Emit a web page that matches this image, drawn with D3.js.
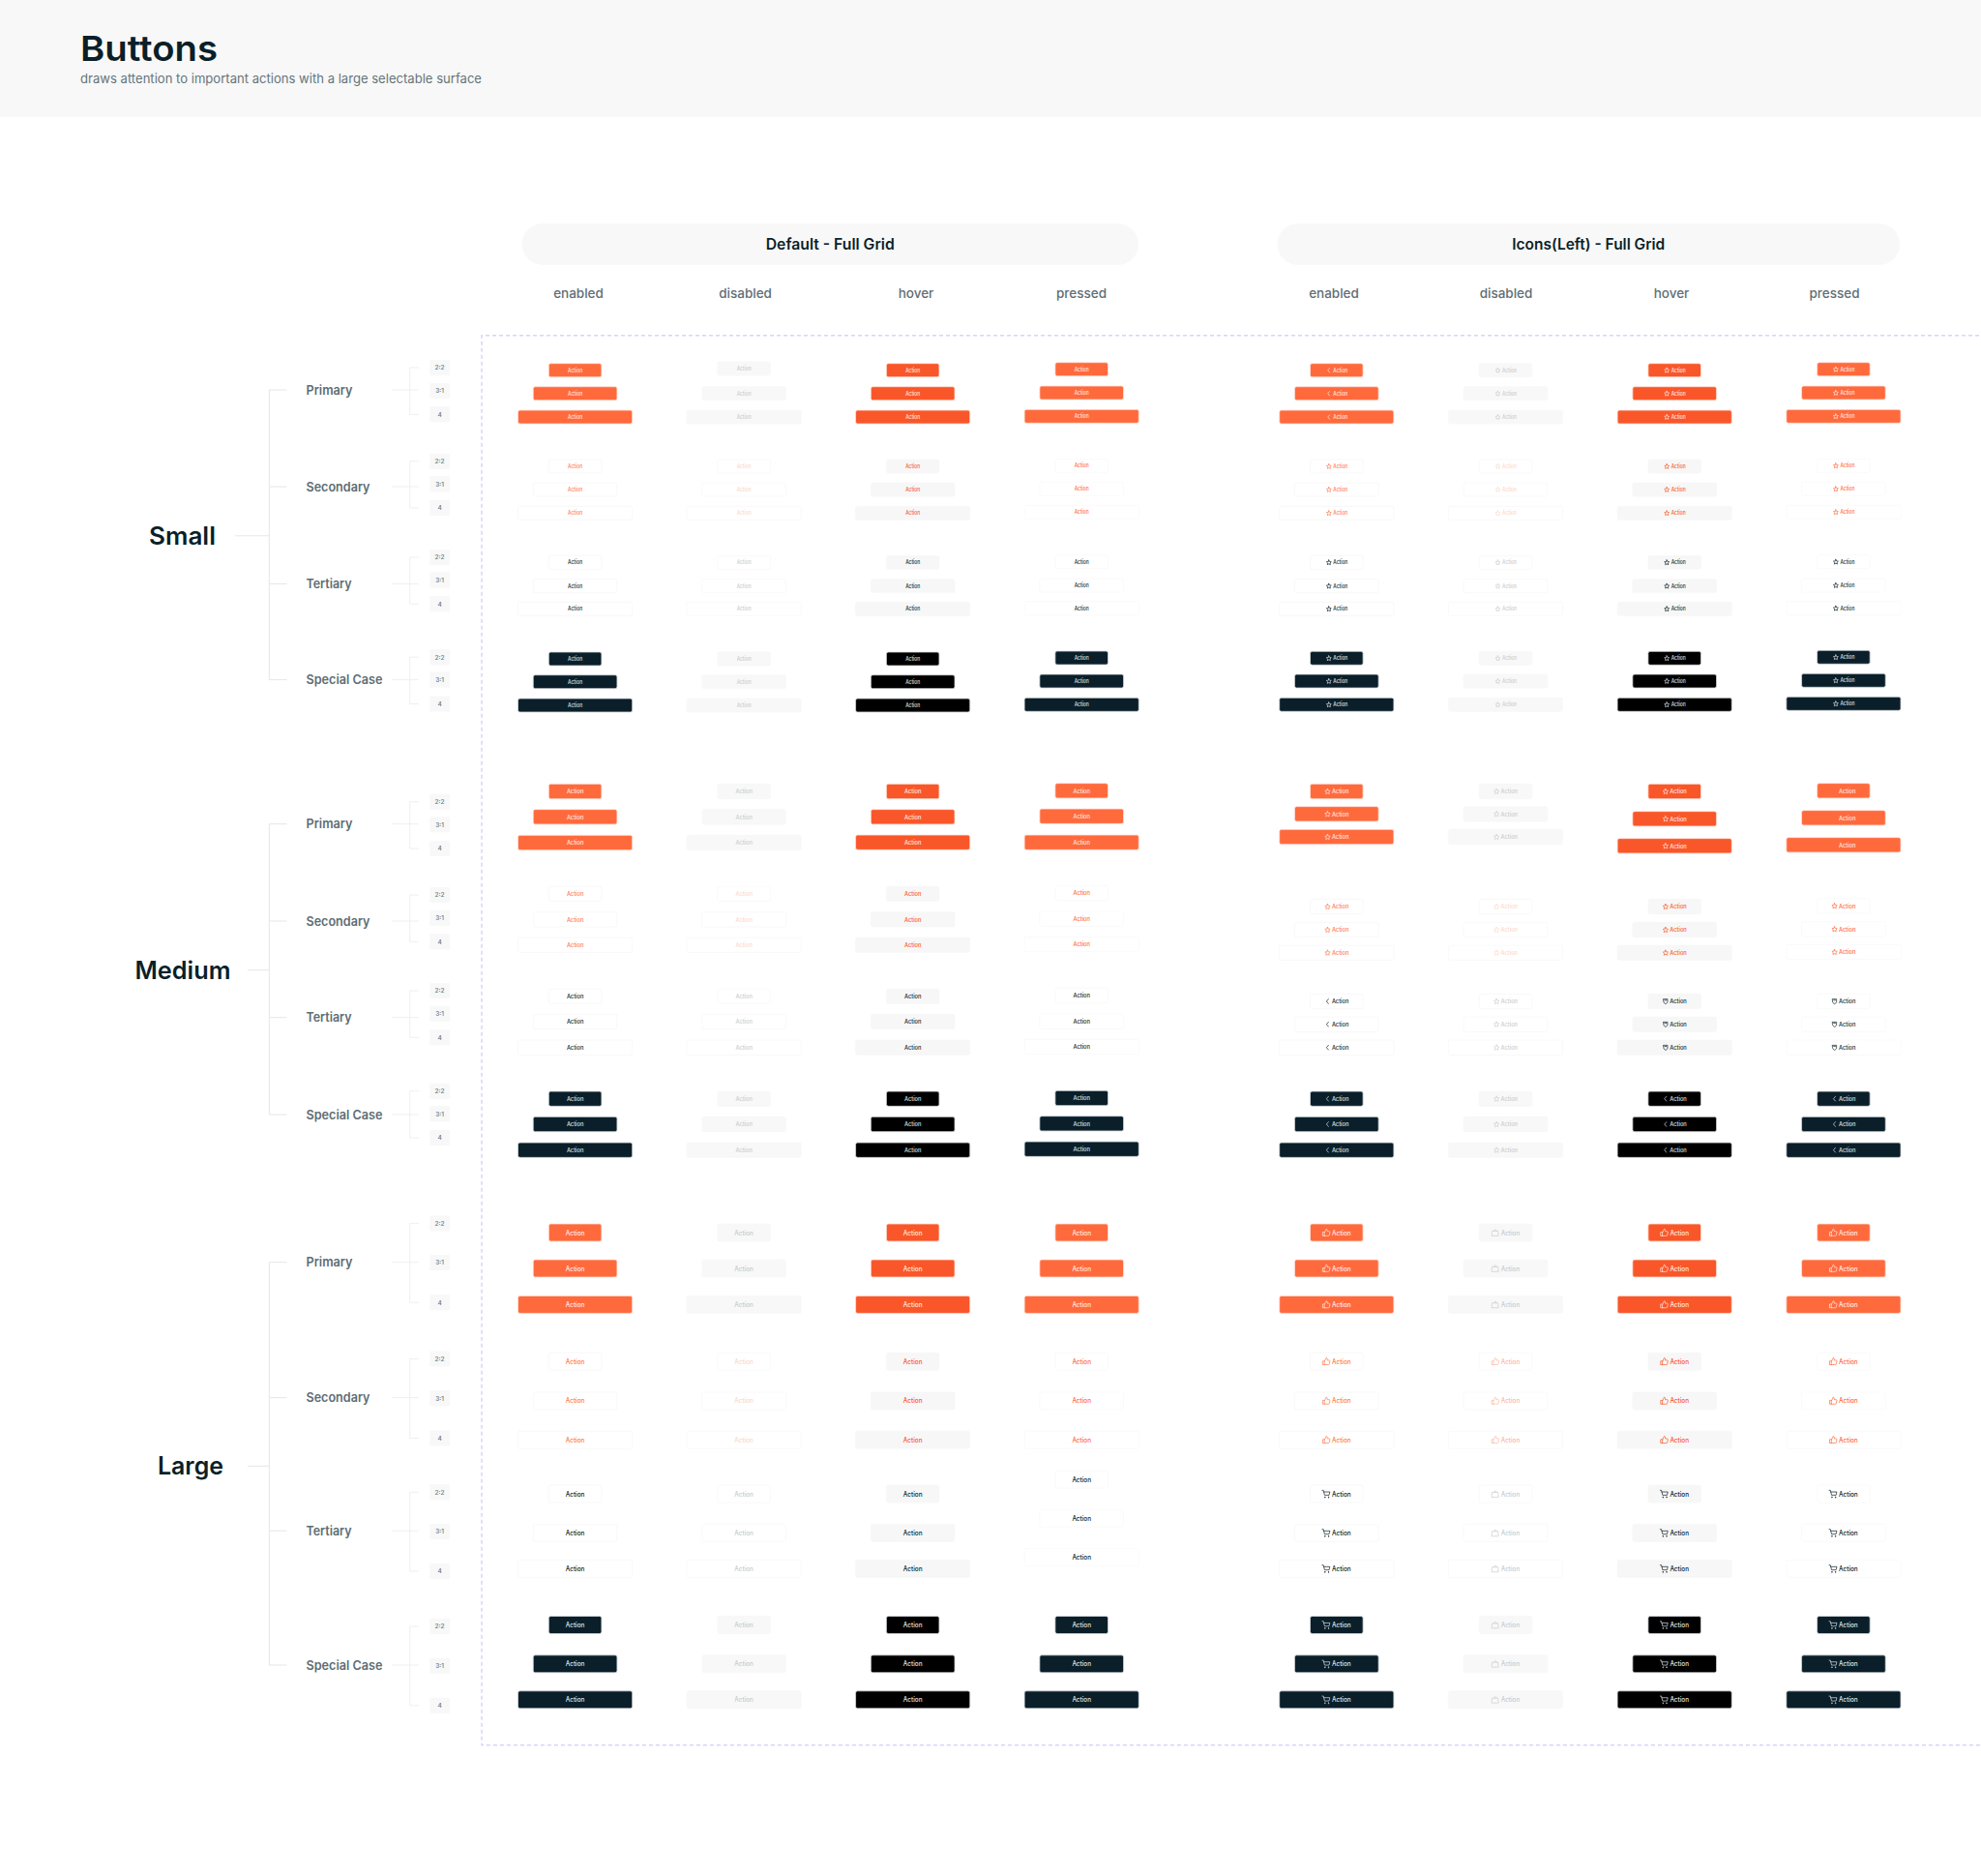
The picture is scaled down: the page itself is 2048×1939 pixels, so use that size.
<!DOCTYPE html>
<html><head><meta charset="utf-8">
<script src="https://cdnjs.cloudflare.com/ajax/libs/d3/7.9.0/d3.min.js"></script>
<style>html,body{margin:0;padding:0;background:#fff}svg{display:block}text{font-family:Inter,"Noto Sans",sans-serif}</style>
</head><body><div id="chart"></div>
<script>
// ---------- categories / labels ----------
const sizes = ['Small','Medium','Large'];
const kinds = ['Primary','Secondary','Tertiary','Special Case'];
const states = ['enabled','disabled','hover','pressed'];
const ratios = ['2:2','3:1','4'];
const groups = ['Default - Full Grid','Icons(Left) - Full Grid'];

// ---------- row centres (12 per column: 4 kinds x 3 ratios) ----------
const smallDefaultEnabled  = [382.7,406.7,431,482,506,530.3,581.3,605.7,629.3,681,704.7,729];
const smallDefaultDisabled = [381,406.7,431,482,506,530.3,581.3,605.7,629.3,681,704.7,729];
const smallDefaultHover    = [382.7,406.7,431,482,506,530.3,581.3,605.7,629.3,681,704.7,729];
const smallDefaultPressed  = [381.7,406,430.3,481.3,505.3,529.3,580.7,605,628.7,680,704,728.3];
const smallIconEnabled     = [382.7,406.7,431,482,506,530.3,581.3,605.7,629.3,680.3,704,728.3];
const smallIconDisabled    = [382.7,406.7,431,482,506,530.3,581.3,605.7,629.3,680.3,704,728.3];
const smallIconHover       = [382.7,406.7,431,482,506,530.3,581.3,605.7,629.3,680.3,704,728.3];
const smallIconPressed     = [381.7,406,430.3,481.3,505.3,529.3,580.7,605,628.7,679.3,703.3,727.3];

const mediumDefaultEnabled  = [818,844.3,871,923.7,950.3,976.7,1029.7,1056,1082.7,1135.7,1162,1188.7];
const mediumDefaultDisabled = [818,844.3,871,923.7,950.3,976.7,1029.7,1056,1082.7,1135.7,1162,1188.7];
const mediumDefaultHover    = [818,844.3,870.7,923.7,950.3,976.7,1029.7,1056,1082.7,1135.7,1162,1188.7];
const mediumDefaultPressed  = [817.3,843.7,870.7,923,949.7,976,1029,1055.7,1082,1135,1161.3,1187.7];
const mediumIconEnabled     = [818,841.3,865,937,961,984.7,1035,1058.7,1082.7,1135.7,1162,1188.7];
const mediumIconDisabled    = [818,841.3,865,937,961,984.7,1035,1058.7,1082.7,1135.7,1162,1188.7];
const mediumIconHover       = [818,846.3,874.3,937,961,984.7,1035,1058.7,1082.7,1135.7,1162,1188.7];
const mediumIconPressed     = [817.3,845.3,873.3,936.3,960.3,984,1035,1058.7,1082.7,1135.7,1162,1188.7];

const largeDefaultEnabled  = [1274,1311,1348.4,1407.2,1447.9,1488.2,1544.1,1584.4,1621.4,1679.5,1719.8,1756.8];
const largeDefaultDisabled = [1274,1311,1348.4,1407.2,1447.9,1488.2,1544.1,1584.4,1621.4,1679.5,1719.8,1756.8];
const largeDefaultHover    = [1274,1311,1348.4,1407.2,1447.9,1488.2,1544.1,1584.4,1621.4,1679.5,1719.8,1756.8];
const largeDefaultPressed  = [1274,1311,1348.4,1407.2,1447.9,1488.2,1529,1569.3,1609.6,1679.5,1719.8,1756.8];
const largeIconEnabled     = [1274,1311,1348.4,1407.2,1447.9,1488.2,1544.1,1584.4,1621.4,1679.5,1719.8,1756.8];
const largeIconDisabled    = [1274,1311,1348.4,1407.2,1447.9,1488.2,1544.1,1584.4,1621.4,1679.5,1719.8,1756.8];
const largeIconHover       = [1274,1311,1348.4,1407.2,1447.9,1488.2,1544.1,1584.4,1621.4,1679.5,1719.8,1756.8];
const largeIconPressed     = [1274,1311,1348.4,1407.2,1447.9,1488.2,1544.1,1584.4,1621.4,1679.5,1719.8,1756.8];

// ---------- left tree rows ----------
const smallKindRows  = [403,503,603.4,702.6];
const mediumKindRows = [851.7,952,1051.7,1152];
const largeKindRows  = [1304.7,1444.6,1582.2,1721];
const smallChipRows  = [380,404,428.3,476.7,500.2,525,576,599.5,624.3,679.2,702.6,727.5];
const mediumChipRows = [828.7,852.3,877,925,948.7,973.3,1024,1047.7,1072.3,1127.7,1151.3,1176];
const largeChipRows  = [1264.4,1305.1,1346.2,1404.6,1445.3,1486.4,1542.3,1583,1624,1681,1721.7,1762.8];
const sizeRows = [553.8,1002.7,1515.3];

// ---------- icon used per kind (rows) and state (cols) ----------
const smallIcons  = [['chev','star','star','star'],['star','star','star','star'],['star','star','star','star'],['star','star','star','star']];
const mediumIcons = [['star','star','star','none'],['star','star','star','star'],['chev','star','shield','shield'],['chev','star','chev','chev']];
const largeIcons  = [['thumb','bag','thumb','thumb'],['thumb','thumb','thumb','thumb'],['cart','bag','cart','cart'],['cart','bag','cart','cart']];

// ---------- lookups and layout ----------
const rowTable = {
  Small:{0:[smallDefaultEnabled,smallDefaultDisabled,smallDefaultHover,smallDefaultPressed],1:[smallIconEnabled,smallIconDisabled,smallIconHover,smallIconPressed]},
  Medium:{0:[mediumDefaultEnabled,mediumDefaultDisabled,mediumDefaultHover,mediumDefaultPressed],1:[mediumIconEnabled,mediumIconDisabled,mediumIconHover,mediumIconPressed]},
  Large:{0:[largeDefaultEnabled,largeDefaultDisabled,largeDefaultHover,largeDefaultPressed],1:[largeIconEnabled,largeIconDisabled,largeIconHover,largeIconPressed]}
};
const iconTable = {Small:smallIcons,Medium:mediumIcons,Large:largeIcons};
const kindRowTable = {Small:smallKindRows,Medium:mediumKindRows,Large:largeKindRows};
const chipRowTable = {Small:smallChipRows,Medium:mediumChipRows,Large:largeChipRows};

const W=2048,H=1939;
const svg=d3.select('#chart').append('svg').attr('width',W).attr('height',H).attr('viewBox',`0 0 ${W} ${H}`);
const y=d3.scaleLinear().domain([0,H]).range([0,H]);
const xByGroup=[d3.scalePoint().domain(states).range([594.6,1118.2]),d3.scalePoint().domain(states).range([1381.8,1905.9])];
const btnW=d3.scaleOrdinal().domain(ratios).range([54.6,86.7,118.2]);
const btnH=d3.scaleOrdinal().domain(sizes).range([14,15.3,18]);
const fontS=d3.scaleOrdinal().domain(sizes).range([5.6,6.4,7.2]);
const textW=d3.scaleOrdinal().domain(sizes).range([15,17.4,19.6]);
const iconS=d3.scaleOrdinal().domain(sizes).range([6.5,7,10]);
const iconDx=d3.scaleOrdinal().domain(sizes).range([-8,-9.3,-10.7]);
const textDx=d3.scaleOrdinal().domain(sizes).range([4,3.8,5]);

const ORANGE='#ff6a3d',ORANGE_H='#f9572a',DARK='#0a1f29',GREY='#f8f8f8';
function styleFor(kind,state,group,size){
  const k=kinds.indexOf(kind);
  if(k===0||k===3){
    if(state==='disabled')return{fill:GREY,stroke:'#f7f7f7',text:'#c8cdcf'};
    if(k===0)return{fill:state==='hover'?ORANGE_H:ORANGE,stroke:'#ffe0d6',text:'#ffe9e2'};
    return{fill:state==='hover'?'#000000':DARK,stroke:'#d4d8da',text:'#dfe3e5'};
  }
  const ink=k===1?'#ff7a52':DARK;
  if(state==='disabled'){
    const paleIcon=k===1&&group===1&&size==='Large';
    return{fill:'#fff',stroke:'#f7f7f7',text:k===1?(paleIcon?'#fdb8a3':'#fcd8cc'):'#c8cdcf'};
  }
  if(state==='hover')return{fill:'#f7f7f7',stroke:'#f7f7f7',text:k===1?ORANGE_H:DARK};
  if(state==='pressed')return{fill:'#fff',stroke:'#f9f9f9',text:k===1?ORANGE:DARK};
  return{fill:'#fff',stroke:'#f6f6f6',text:ink};
}

// icons
const iconPaths={
  star:'M12 3l2.8 5.9 6.4.9-4.6 4.5 1.1 6.4-5.7-3-5.7 3 1.1-6.4L2.8 9.8l6.4-.9z',
  chev:'M15 4l-7 8 7 8',
  shield:'M5 4h14v9c0 4-3 6-7 8-4-2-7-4-7-8z M9 8h6',
  thumb:'M8 11l4-8c1.5 0 2.5 1 2.5 2.5V9h5c1 0 2 1 1.7 2.2l-1.7 7.5c-.2 1-1 1.3-2 1.3H8z M8 11H3v9h5',
  bag:'M5 8h14l1 12H4z M9 8c0-5 6-5 6 0',
  cart:'M2 3h3l3 12h11l2-8H6 M9 19.5a1 1 0 1 0 .01 0 M18 19.5a1 1 0 1 0 .01 0'
};

// header
svg.append('rect').attr('width',W).attr('height',121).attr('fill','#f8f8f8');
svg.append('text').attr('x',83).attr('y',63).attr('font-size',36).attr('font-weight',600).attr('fill',DARK)
  .attr('textLength',142).attr('lengthAdjust','spacingAndGlyphs').text('Buttons');
svg.append('text').attr('x',83).attr('y',86).attr('font-size',13.5).attr('font-weight',400).attr('fill','#66757b')
  .attr('textLength',415).attr('lengthAdjust','spacingAndGlyphs').text('draws attention to important actions with a large selectable surface');

// group pills
const pillX=[[539.5,1177],[1320.5,1964]],pillTextW=[133,158];
groups.forEach((g,i)=>{
  svg.append('rect').attr('x',pillX[i][0]).attr('y',231).attr('width',pillX[i][1]-pillX[i][0]).attr('height',43).attr('rx',21.5).attr('fill','#f8f8f8');
  svg.append('text').attr('x',(pillX[i][0]+pillX[i][1])/2).attr('y',252.5).attr('dy','.36em').attr('text-anchor','middle')
    .attr('font-size',15.5).attr('font-weight',600).attr('fill',DARK).attr('textLength',pillTextW[i]).attr('lengthAdjust','spacingAndGlyphs').text(g);
});

// state headers
const stateLabelX=[598,770.6,947,1118,1379,1557,1728,1896.5];
svg.append('g').selectAll('text').data(stateLabelX).join('text')
  .attr('x',d=>d).attr('y',303).attr('dy','.36em').attr('text-anchor','middle')
  .attr('font-size',13.5).attr('font-weight',500).attr('fill','#5f6e75')
  .text((d,i)=>states[i%4]);

// dashed frame
svg.append('path').attr('d',`M${W+5} 346.7H498V1803.8H${W+5}`).attr('fill','none')
  .attr('stroke','#dcd2fb').attr('stroke-width',1.5).attr('stroke-dasharray','4 3');

// left tree
const kindW={'Primary':48,'Secondary':66,'Tertiary':47,'Special Case':79};
const sizeLabel={Small:{x:188.5,w:69,stub:243},Medium:{x:189,w:99,stub:256},Large:{x:197,w:68,stub:256}};
sizes.forEach((size,si)=>{
  const g=svg.append('g');
  const kr=kindRowTable[size],cr=chipRowTable[size],cy=y(sizeRows[si]);
  g.append('text').attr('x',sizeLabel[size].x).attr('y',cy).attr('dy','.36em').attr('text-anchor','middle')
    .attr('font-size',25).attr('font-weight',600).attr('fill',DARK)
    .attr('textLength',sizeLabel[size].w).attr('lengthAdjust','spacingAndGlyphs').text(size);
  const line='#e4e6e7',soft='#eeeff0';
  g.append('path').attr('d',`M${sizeLabel[size].stub} ${cy}H278.3`).attr('stroke',line).attr('fill','none');
  g.append('path').attr('d',`M296.5 ${y(kr[0])}H278.3V${y(kr[3])}H296.5`).attr('stroke',line).attr('fill','none');
  kinds.forEach((k,ki)=>{
    const ky=y(kr[ki]);
    if(ki===1||ki===2)g.append('path').attr('d',`M278.3 ${ky}H296.5`).attr('stroke',line);
    g.append('text').attr('x',316.5).attr('y',ky).attr('dy','.36em').attr('font-size',13).attr('font-weight',600).attr('fill','#5d6d74')
      .attr('textLength',kindW[k]).attr('lengthAdjust','spacingAndGlyphs').text(k);
    g.append('path').attr('d',`M405 ${ky}H432.7`).attr('stroke',soft).attr('fill','none');
    const chips=ratios.map((r,ri)=>({r,cy:y(cr[ki*3+ri])}));
    g.append('path').attr('d',`M433 ${chips[0].cy}H423.7V${chips[2].cy}H433`).attr('stroke',soft).attr('fill','none');
    chips.forEach(c=>{
      g.append('rect').attr('x',444.3).attr('y',c.cy-8).attr('width',20.7).attr('height',16).attr('rx',1).attr('fill','#f8f8f8');
      g.append('text').attr('x',454.6).attr('y',c.cy).attr('dy','.36em').attr('text-anchor','middle').attr('font-size',6.5).attr('font-weight',500).attr('fill','#66757b').text(c.r);
    });
  });
});

// buttons
const cells=[];
sizes.forEach(size=>[0,1].forEach(group=>states.forEach((state,si)=>kinds.forEach((kind,ki)=>ratios.forEach((ratio,ri)=>{
  cells.push({size,group,state,kind,ratio,row:rowTable[size][group][si][ki*3+ri],icon:group?iconTable[size][ki][si]:null});
})))));
const st=d=>styleFor(d.kind,d.state,d.group,d.size);
const btn=svg.append('g').selectAll('g').data(cells).join('g')
  .attr('transform',d=>`translate(${xByGroup[d.group](d.state)},${y(d.row)})`);
btn.append('rect')
  .attr('x',d=>-btnW(d.ratio)/2).attr('y',d=>-btnH(d.size)/2)
  .attr('width',d=>btnW(d.ratio)).attr('height',d=>btnH(d.size)).attr('rx',2)
  .attr('fill',d=>st(d).fill).attr('stroke',d=>st(d).stroke).attr('stroke-width',.8);
btn.append('text')
  .attr('x',d=>d.group?textDx(d.size):0).attr('dy','.36em').attr('text-anchor','middle')
  .attr('font-size',d=>fontS(d.size)).attr('font-weight',500).attr('fill',d=>st(d).text)
  .attr('textLength',d=>textW(d.size)).attr('lengthAdjust','spacingAndGlyphs').text('Action');
btn.filter(d=>d.icon&&d.icon!=='none').append('path')
  .attr('d',d=>iconPaths[d.icon])
  .attr('transform',d=>{const s=iconS(d.size)/24;return `translate(${iconDx(d.size)-iconS(d.size)/2},${-iconS(d.size)/2}) scale(${s})`;})
  .attr('fill','none').attr('stroke',d=>st(d).text)
  .attr('stroke-width',d=>.7*24/iconS(d.size)).attr('stroke-linejoin','round').attr('stroke-linecap','round');
</script></body></html>
